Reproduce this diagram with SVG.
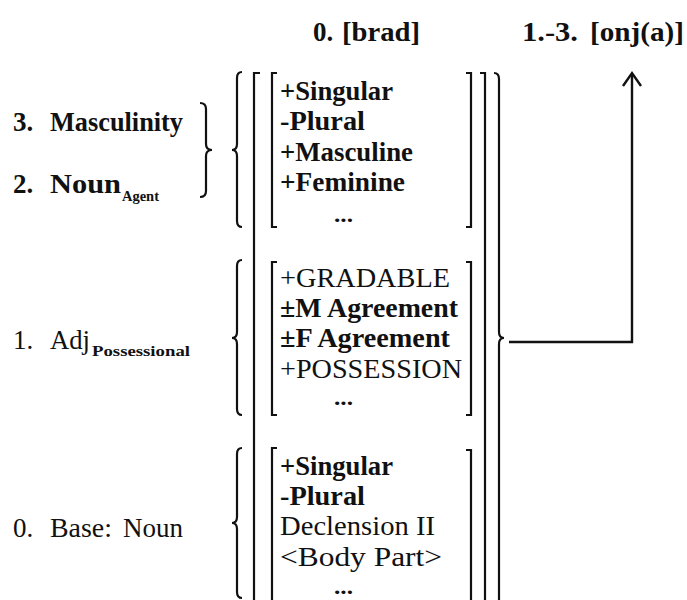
<svg xmlns="http://www.w3.org/2000/svg" width="687" height="600" viewBox="0 0 687 600">
<style>
  text { font-family: "Liberation Serif", "Times New Roman", serif; font-size: 27px; fill: #111; }
  .b { font-weight: bold; }
  .sub { font-size: 15px; font-weight: bold; }
  .dots { font-size: 22px; font-weight: bold; }
  .br { fill: none; stroke: #111; stroke-width: 2.2; stroke-linejoin: miter; }
  .cn { fill: none; stroke: #111; stroke-width: 2.4; }
</style>
<rect width="687" height="600" fill="#fff"/>

<g id="label-brad">
  <text class="b" x="313" y="41">0.</text>
  <text class="b" x="342" y="41" textLength="78" lengthAdjust="spacingAndGlyphs">[brad]</text>
</g>
<g id="label-onja">
  <text class="b" x="522" y="41" textLength="56" lengthAdjust="spacingAndGlyphs">1.-3.</text>
  <text class="b" x="590" y="41" textLength="94" lengthAdjust="spacingAndGlyphs">[onj(a)]</text>
</g>

<g id="label-masculinity">
  <text class="b" x="13" y="131">3.</text>
  <text class="b" x="50" y="131" textLength="133" lengthAdjust="spacingAndGlyphs">Masculinity</text>
</g>
<g id="label-noun-agent">
  <text class="b" x="13" y="193">2.</text>
  <text class="b" x="50" y="193" textLength="71" lengthAdjust="spacingAndGlyphs">Noun</text>
  <text class="sub" x="122" y="201" textLength="37" lengthAdjust="spacingAndGlyphs">Agent</text>
</g>
<g id="brace-small">
  <path class="br" d="M200 103 Q206 103 206 109 L206 144 Q206 150 212 150 Q206 150 206 156 L206 191 Q206 197 200 197"/>
</g>
<g id="label-adj">
  <text x="13" y="349">1.</text>
  <text x="50" y="349" textLength="40" lengthAdjust="spacingAndGlyphs">Adj</text>
  <text class="sub" x="92" y="356" textLength="98" lengthAdjust="spacingAndGlyphs">Possessional</text>
</g>
<g id="label-base">
  <text x="13" y="537">0.</text>
  <text x="50" y="537" textLength="62" lengthAdjust="spacingAndGlyphs">Base:</text>
  <text x="123" y="537" textLength="60" lengthAdjust="spacingAndGlyphs">Noun</text>
</g>

<g id="outer-matrix">
  <path class="br" d="M260 73 H254 V612" stroke-width="2.6"/>
  <path class="br" d="M480 73 H485 V612" stroke-width="2.6"/>
  <path class="br" d="M494 73 Q499 73 499 79 L499 332 Q499 338 504 338 Q499 338 499 344 L499 612"/>
</g>

<g id="group-masculinity">
  <path class="br" d="M242 72 Q237 72 237 78 L237 144 Q237 150 232 150 Q237 150 237 156 L237 221 Q237 227 242 227"/>
  <path class="br" d="M277 73 H272 V227 H277"/>
  <path class="br" d="M466 73 H471 V227 H466"/>
  <text class="b" x="280" y="100" textLength="113" lengthAdjust="spacingAndGlyphs">+Singular</text>
  <text class="b" x="280" y="130" textLength="85" lengthAdjust="spacingAndGlyphs">-Plural</text>
  <text class="b" x="280" y="161" textLength="133" lengthAdjust="spacingAndGlyphs">+Masculine</text>
  <text class="b" x="280" y="191" textLength="125" lengthAdjust="spacingAndGlyphs">+Feminine</text>
  <text class="dots" x="334" y="222" textLength="19" lengthAdjust="spacingAndGlyphs">...</text>
</g>

<g id="group-adj">
  <path class="br" d="M242 260 Q237 260 237 266 L237 332 Q237 338 232 338 Q237 338 237 344 L237 409 Q237 415 242 415"/>
  <path class="br" d="M277 262 H272 V415 H277"/>
  <path class="br" d="M466 262 H471 V415 H466"/>
  <text x="280" y="287" textLength="170" lengthAdjust="spacingAndGlyphs">+GRADABLE</text>
  <text class="b" x="280" y="317" textLength="178" lengthAdjust="spacingAndGlyphs">±M Agreement</text>
  <text class="b" x="280" y="347" textLength="170" lengthAdjust="spacingAndGlyphs">±F Agreement</text>
  <text x="280" y="378" textLength="182" lengthAdjust="spacingAndGlyphs">+POSSESSION</text>
  <text class="dots" x="334" y="405" textLength="19" lengthAdjust="spacingAndGlyphs">...</text>
</g>

<g id="group-base">
  <path class="br" d="M242 448 Q237 448 237 454 L237 517 Q237 523 232 523 Q237 523 237 529 L237 592 Q237 598 242 598"/>
  <path class="br" d="M277 448 H272 V612"/>
  <path class="br" d="M466 450 H471 V612"/>
  <text class="b" x="280" y="475" textLength="113" lengthAdjust="spacingAndGlyphs">+Singular</text>
  <text class="b" x="280" y="505" textLength="85" lengthAdjust="spacingAndGlyphs">-Plural</text>
  <text x="280" y="535" textLength="155" lengthAdjust="spacingAndGlyphs">Declension II</text>
  <text x="280" y="566" textLength="162" lengthAdjust="spacingAndGlyphs">&lt;Body Part&gt;</text>
  <text class="dots" x="334" y="594" textLength="19" lengthAdjust="spacingAndGlyphs">...</text>
</g>

<g id="connectors">
  <path class="cn" d="M509 342 H632 V74"/>
  <path class="cn" d="M623 86 L632 73 L641 86"/>
</g>
</svg>
